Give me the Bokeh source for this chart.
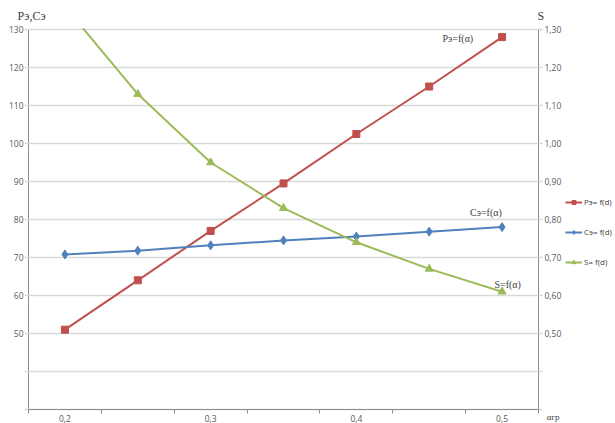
from bokeh.plotting import figure
from bokeh.models import Range1d, LinearAxis, FixedTicker, Label, Legend, LegendItem, BoxAnnotation
from bokeh.embed import file_html
from bokeh.resources import INLINE

# ---- data ----
alpha = [0.2, 0.25, 0.3, 0.35, 0.4, 0.45, 0.5]
p_e = [51, 64, 77, 89.5, 102.5, 115, 128]
c_e = [70.8, 71.8, 73.2, 74.5, 75.5, 76.8, 78]
s_vals = [1.36, 1.13, 0.95, 0.83, 0.74, 0.67, 0.61]

x_ticks = [0.2, 0.3, 0.4, 0.5]
x_labels = ["0,2", "0,3", "0,4", "0,5"]
x_bounds = [0.175, 0.225, 0.275, 0.325, 0.375, 0.425, 0.475, 0.525]
left_ticks = [30, 40, 50, 60, 70, 80, 90, 100, 110, 120, 130]
left_labels = ["", "", "50", "60", "70", "80", "90", "100", "110", "120", "130"]
right_ticks = [0.3, 0.4, 0.5, 0.6, 0.7, 0.8, 0.9, 1.0, 1.1, 1.2, 1.3]
right_labels = ["", "", "0,50", "0,60", "0,70", "0,80", "0,90", "1,00", "1,10", "1,20", "1,30"]

RED = "#C0504D"
BLUE = "#4F81BD"
GREEN = "#9BBB59"
AXC = "#8C8C8C"
GRID = "#D9D9D9"
TXT = "#595959"
DARK = "#404040"
TICKFONT = "Open Sans"
SERIF = "Liberation Serif"

# ---- layout geometry (pixels) ----
W, H = 615, 423
X0, X1 = 28, 538        # pixel x of left / right axis
Y0, Y1 = 409, 29        # pixel y of bottom (30) / top (130)
xmin, xmax = 0.175, 0.525
ymin, ymax = 30, 130
smin, smax = 0.3, 1.3
kx = (X1 - X0) / (xmax - xmin)
ky = (Y0 - Y1) / (ymax - ymin)
ks = (Y0 - Y1) / (smax - smin)

p = figure(width=W, height=H,
           x_range=Range1d(xmin - X0 / kx, xmax + (W - X1) / kx),
           y_range=Range1d(ymin - (H - Y0) / ky, ymax + Y1 / ky),
           output_backend="svg", toolbar_location=None, min_border=0)
p.title.visible = False
p.outline_line_color = None
p.extra_y_ranges = {"s": Range1d(smin - (H - Y0) / ks, smax + Y1 / ks)}
p.xgrid.visible = False
p.ygrid.visible = False

# x axis
xa = p.xaxis[0]
xa.fixed_location = ymin
xa.bounds = (xmin, xmax)
xa.ticker = FixedTicker(ticks=x_ticks, minor_ticks=x_bounds)
xa.major_label_overrides = dict(zip(x_ticks, x_labels))
xa.major_tick_line_color = None
xa.major_tick_out = 0
xa.minor_tick_line_color = AXC
xa.minor_tick_out = 4
xa.minor_tick_in = 0
xa.axis_line_color = AXC
xa.major_label_text_font = TICKFONT
xa.major_label_text_font_size = "8.5px"
xa.major_label_text_color = TXT
xa.major_label_standoff = 1

# left axis (its long inward ticks act as the horizontal gridlines)
ya = p.yaxis[0]
ya.level = "underlay"
ya.fixed_location = xmin
ya.bounds = (ymin, ymax)
ya.ticker = FixedTicker(ticks=left_ticks, minor_ticks=[])
ya.major_label_overrides = dict(zip(left_ticks, left_labels))
ya.major_tick_line_color = GRID
ya.major_tick_line_width = 1.5
ya.major_tick_out = 4
ya.major_tick_in = X1 - X0
ya.minor_tick_line_color = None
ya.axis_line_color = AXC
ya.major_label_text_font = TICKFONT
ya.major_label_text_font_size = "8.5px"
ya.major_label_text_color = TXT
ya.major_label_standoff = 1

# right axis
ra = LinearAxis(y_range_name="s", fixed_location=xmax, bounds=(smin, smax))
ra.level = "underlay"
ra.ticker = FixedTicker(ticks=right_ticks, minor_ticks=[])
ra.major_label_overrides = dict(zip(right_ticks, right_labels))
ra.major_tick_line_color = GRID
ra.major_tick_line_width = 1.5
ra.major_tick_out = 4
ra.major_tick_in = 0
ra.minor_tick_line_color = None
ra.axis_line_color = AXC
ra.major_label_text_font = TICKFONT
ra.major_label_text_font_size = "8.5px"
ra.major_label_text_color = TXT
ra.major_label_standoff = 2
p.add_layout(ra, "right")

# series
lr = p.line(alpha, p_e, line_color=RED, line_width=2)
mr = p.scatter(alpha, p_e, marker="square", size=7, fill_color=RED, line_color=RED)
lb = p.line(alpha, c_e, line_color=BLUE, line_width=2)
mb = p.scatter(alpha, c_e, marker="diamond", size=9, fill_color=BLUE, line_color=BLUE)
lg = p.line(alpha, s_vals, line_color=GREEN, line_width=2, y_range_name="s")
mg = p.scatter(alpha, s_vals, marker="triangle", size=8, fill_color=GREEN, line_color=GREEN,
               y_range_name="s")

# clip the plot area above the axis maximum (as the original chart does)
p.add_layout(BoxAnnotation(left=xmin + 1 / kx, right=xmax - 1 / kx,
                           bottom=smax + 1.2 / ks, top=smax + Y1 / ks,
                           y_range_name="s", fill_color="white", fill_alpha=1,
                           line_alpha=0))

# legend
legend = Legend(items=[
    LegendItem(label="Pэ= f(d)", renderers=[lr, mr]),
    LegendItem(label="Cэ= f(d)", renderers=[lb, mb]),
    LegendItem(label="S= f(d)", renderers=[lg, mg]),
], location=(565, H - 267), orientation="vertical")
legend.background_fill_alpha = 0
legend.border_line_alpha = 0
legend.padding = 0
legend.margin = 0
legend.spacing = 19
legend.glyph_width = 17
legend.glyph_height = 10
legend.label_height = 10
legend.label_standoff = 2
legend.label_text_font = TICKFONT
legend.label_text_font_size = "8px"
legend.label_text_color = DARK
p.add_layout(legend, "center")

# annotations
def add_label(x, y, text, size="10px", font=SERIF):
    p.add_layout(Label(x=x, y=y, text=text, text_font=font, text_font_size=size,
                       text_color=DARK, text_baseline="alphabetic"))

add_label(0.4591, 127.6, "Pэ=f(α)")
add_label(0.478, 81.8, "Cэ=f(α)")
add_label(0.4948, 62.9, "S=f(α)")
add_label(0.1675, 133.6, "Pэ,Cэ", size="12px")
add_label(0.5243, 133.6, "S", size="12px")
add_label(0.5306, 27.9, "αгр", size="9px")

open("out.html", "w").write(file_html(p, INLINE))
